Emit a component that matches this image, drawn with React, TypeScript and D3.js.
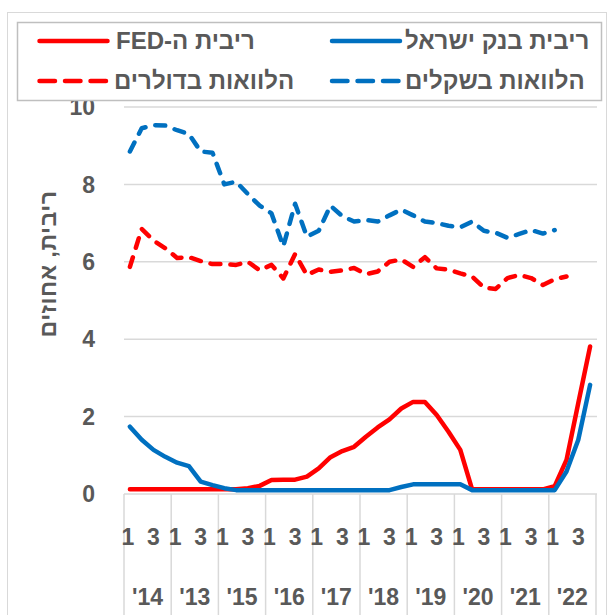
import { useEffect, useRef } from "react";
import * as d3 from "d3";

// quarterly observations, 40 quarters (10 years x 4)
const years = ["'14", "'13", "'15", "'16", "'17", "'18", "'19", "'20", "'21", "'22"];
const quarterTicks = ["1", "3"];

const boiRate = [
  1.74, 1.4, 1.14, 0.96, 0.81, 0.72, 0.32, 0.23, 0.15, 0.1,
  0.1, 0.1, 0.1, 0.1, 0.1, 0.1, 0.1, 0.1, 0.1, 0.1,
  0.1, 0.1, 0.1, 0.18, 0.25, 0.25, 0.25, 0.25, 0.25, 0.1,
  0.1, 0.1, 0.1, 0.1, 0.1, 0.1, 0.1, 0.58, 1.4, 2.82,
];
const fedRate = [
  0.12, 0.12, 0.12, 0.12, 0.12, 0.12, 0.12, 0.12, 0.12, 0.12,
  0.15, 0.21, 0.36, 0.37, 0.37, 0.45, 0.66, 0.95, 1.11, 1.22,
  1.48, 1.72, 1.93, 2.21, 2.38, 2.38, 2.04, 1.61, 1.14, 0.12,
  0.12, 0.12, 0.12, 0.12, 0.12, 0.12, 0.2, 0.88, 2.35, 3.81,
];
const shekelLoans = [
  8.85, 9.45, 9.53, 9.52, 9.4, 9.3, 8.85, 8.82, 8.0, 8.07,
  7.75, 7.45, 7.25, 6.4, 7.5, 6.65, 6.8, 7.45, 7.18, 7.04,
  7.08, 7.04, 7.2, 7.35, 7.2, 7.04, 7.0, 6.93, 6.89, 7.04,
  6.8, 6.75, 6.62, 6.72, 6.82, 6.73, 6.82, null, null, null,
];
const dollarLoans = [
  5.87, 6.85, 6.55, 6.35, 6.1, 6.12, 6.02, 5.94, 5.94, 5.92,
  6.0, 5.78, 5.92, 5.57, 6.2, 5.66, 5.8, 5.74, 5.78, 5.84,
  5.68, 5.75, 6.0, 6.06, 5.87, 6.12, 5.83, 5.8, 5.7, 5.62,
  5.33, 5.3, 5.58, 5.66, 5.58, 5.4, 5.55, 5.62, null, null,
];
const yTicks = [0, 2, 4, 6, 8, 10];

const RED = "#FF0000";
const BLUE = "#0070C0";
const TEXT = "#595959";
const GRID = "#D9D9D9";
const NUM_FONT = "bold 23px 'Liberation Sans', Arial, sans-serif";
const HEB_FONT = "bold 24px 'Liberation Sans', 'DejaVu Sans', sans-serif";

export default function App() {
  const svgRef = useRef<SVGSVGElement | null>(null);

  useEffect(() => {
    const W = 611, H = 615;
    const left = 124, right = 596, top = 107, bottom = 494;
    const svg = d3.select(svgRef.current).attr("width", W).attr("height", H);
    svg.selectAll("*").remove();

    svg.append("rect").attr("x", 7.5).attr("y", 12.5).attr("width", 599).attr("height", 620)
      .attr("fill", "#fff").attr("stroke", GRID);

    const idx = d3.range(40);
    const x = d3.scaleBand<number>().domain(idx).range([left, right]);
    const xc = (i: number) => (x(i) as number) + x.bandwidth() / 2;
    const y = d3.scaleLinear().domain([0, 10]).range([bottom, top]);

    // gridlines
    svg.append("g").selectAll("line").data(yTicks.filter(t => t > 0)).join("line")
      .attr("x1", left).attr("x2", right + 1)
      .attr("y1", d => y(d)).attr("y2", d => y(d))
      .attr("stroke", GRID).attr("stroke-width", 1.5);

    // x axis line + year separators
    svg.append("line").attr("x1", left).attr("x2", right + 1).attr("y1", bottom).attr("y2", bottom)
      .attr("stroke", GRID).attr("stroke-width", 1.5);
    const yearScale = d3.scaleBand<string>().domain(years.map((_, i) => String(i))).range([left, right]);
    const seps = years.map((_, i) => yearScale(String(i)) as number).concat([right]);
    svg.append("g").selectAll("line").data(seps).join("line")
      .attr("x1", d => d).attr("x2", d => d).attr("y1", bottom).attr("y2", H)
      .attr("stroke", GRID).attr("stroke-width", 1.5);

    // y tick labels
    svg.append("g").selectAll("text").data(yTicks).join("text")
      .attr("x", 95).attr("y", d => y(d)).attr("dy", "0.36em")
      .attr("text-anchor", "end").attr("fill", TEXT)
      .style("font", NUM_FONT).text(d => d);

    // quarter labels
    const qData = idx.filter(i => i % 4 === 0 || i % 4 === 2);
    svg.append("g").selectAll("text").data(qData).join("text")
      .attr("x", d => xc(d) - (d % 4 === 0 ? 2 : 0)).attr("y", 545).attr("text-anchor", "middle").attr("fill", TEXT)
      .style("font", NUM_FONT).text(d => quarterTicks[(d % 4) / 2]);

    // year labels
    svg.append("g").selectAll("text").data(years).join("text")
      .attr("x", (_, i) => (yearScale(String(i)) as number) + yearScale.bandwidth() / 2).attr("y", 605)
      .attr("text-anchor", "middle").attr("fill", TEXT)
      .style("font", NUM_FONT).text(d => d);

    // y title
    svg.append("text").attr("transform", `translate(48,264) rotate(-90)`)
      .attr("text-anchor", "middle").attr("dy", "0.35em").attr("direction", "rtl")
      .attr("fill", TEXT).style("font", "bold 23px 'Liberation Sans', 'DejaVu Sans', sans-serif")
      .style("letter-spacing", "0.5px").text("ריבית, אחוזים");

    const line = d3.line<number | null>()
      .defined(d => d !== null)
      .x((_, i) => xc(i))
      .y(d => y(d as number));

    const series = [
      { data: dollarLoans, color: RED, dash: true },
      { data: shekelLoans, color: BLUE, dash: true },
      { data: fedRate, color: RED, dash: false },
      { data: boiRate, color: BLUE, dash: false },
    ];
    series.forEach(s => {
      svg.append("path").attr("d", line(s.data)).attr("fill", "none")
        .attr("stroke", s.color).attr("stroke-width", 4.5)
        .attr("stroke-linejoin", "round").attr("stroke-linecap", "round")
        .attr("stroke-dasharray", s.dash ? "10 10" : null);
    });

    // legend
    const lg = svg.append("g");
    lg.append("rect").attr("x", 17.5).attr("y", 22.5).attr("width", 584).attr("height", 78)
      .attr("fill", "#fff").attr("stroke", "#BFBFBF").attr("stroke-width", 1.5);
    const items = [
      { label: "ריבית בנק ישראל", color: BLUE, dash: false, lx: 332, tx: 405, ty: 41 },
      { label: "ריבית ה-FED", color: RED, dash: false, lx: 39.5, tx: 116, ty: 41 },
      { label: "הלוואות בשקלים", color: BLUE, dash: true, lx: 332, tx: 405, ty: 81 },
      { label: "הלוואות בדולרים", color: RED, dash: true, lx: 39.5, tx: 114, ty: 81 },
    ];
    items.forEach(it => {
      lg.append("line").attr("x1", it.lx).attr("x2", it.lx + 68).attr("y1", it.ty).attr("y2", it.ty)
        .attr("stroke", it.color).attr("stroke-width", 4.5).attr("stroke-linecap", "round")
        .attr("stroke-dasharray", it.dash ? "15.5 10" : null);
      lg.append("text").attr("x", it.tx).attr("y", it.ty).attr("dy", "0.35em")
        .attr("direction", "rtl").attr("text-anchor", "end").attr("fill", TEXT)
        .style("font", HEB_FONT).text(it.label);
    });
  }, []);

  return (
    <div style={{ position: "absolute", left: 0, top: 0 }}>
      <svg ref={svgRef}></svg>
    </div>
  );
}
